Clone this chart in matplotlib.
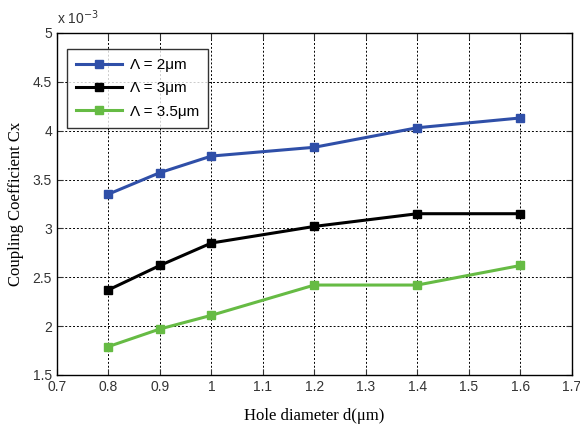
import matplotlib
matplotlib.use("Agg")
import matplotlib.pyplot as plt

# hole diameter (um) and coupling coefficient (x 1e-3)
d = [0.8, 0.9, 1.0, 1.2, 1.4, 1.6]
cx_2um = [3.35, 3.57, 3.74, 3.83, 4.03, 4.13]
cx_3um = [2.37, 2.62, 2.85, 3.02, 3.15, 3.15]
cx_35um = [1.79, 1.97, 2.11, 2.42, 2.42, 2.62]

labels = ["Λ = 2μm", "Λ = 3μm", "Λ = 3.5μm"]
colors = ["#2f4fa8", "#000000", "#66bb44"]

fig = plt.figure(figsize=(5.8, 4.28), dpi=100)
ax = fig.add_axes([0.098, 0.124, 0.888, 0.799])

for y, lab, c in zip([cx_2um, cx_3um, cx_35um], labels, colors):
    ax.plot(d, y, color=c, lw=2.2, marker="s", ms=6, label=lab)

ax.set_xlim(0.7, 1.7)
ax.set_ylim(1.5, 5)
ax.set_xticks([0.7, 0.8, 0.9, 1, 1.1, 1.2, 1.3, 1.4, 1.5, 1.6, 1.7])
ax.set_xticklabels(["0.7", "0.8", "0.9", "1", "1.1", "1.2", "1.3", "1.4", "1.5", "1.6", "1.7"])
ax.set_yticks([1.5, 2, 2.5, 3, 3.5, 4, 4.5, 5])
ax.set_yticklabels(["1.5", "2", "2.5", "3", "3.5", "4", "4.5", "5"])
ax.grid(True, color="black", linestyle=(0, (2, 2)), lw=0.7)
ax.tick_params(direction="in", top=True, right=True, labelsize=10, colors="#333333", length=4)
for lbl in ax.get_xticklabels() + ax.get_yticklabels():
    lbl.set_family("Liberation Sans")
for s in ax.spines.values():
    s.set_linewidth(1.0)

ax.set_xlabel("Hole diameter d(μm)", family="Liberation Serif", fontsize=12, labelpad=10)
ax.set_ylabel("Coupling Coefficient Cx", family="Liberation Serif", fontsize=12, labelpad=6)
fig.text(0.098, 0.945, "x 10$^{-3}$", family="Liberation Sans", fontsize=10, color="#333333")

leg = ax.legend(loc="upper left", bbox_to_anchor=(0.005, 0.975), frameon=True, fancybox=False,
                edgecolor="black", prop={"family": "Liberation Sans", "size": 11},
                handlelength=3.0, borderpad=0.6, labelspacing=0.6, handletextpad=0.5)
leg.get_frame().set_linewidth(1.0)

fig.savefig("out.png", dpi=100)
